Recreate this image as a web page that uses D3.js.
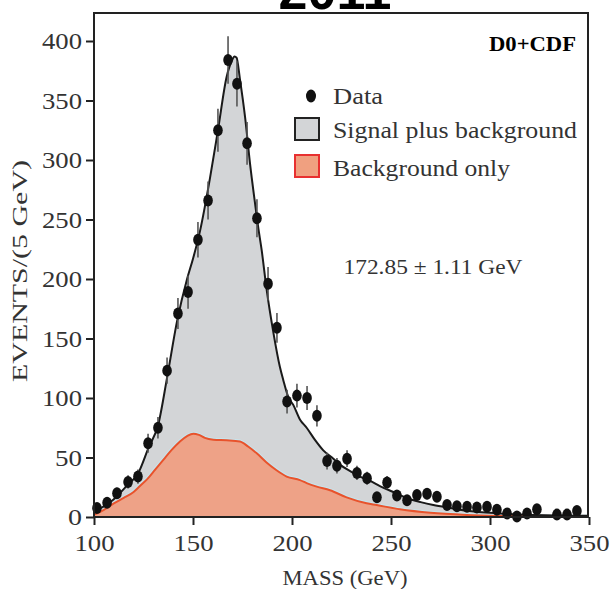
<!DOCTYPE html>
<html><head><meta charset="utf-8">
<script src="https://cdn.jsdelivr.net/npm/d3@7"></script>
<style>html,body{margin:0;padding:0;background:#fff;}svg{display:block;}</style>
</head><body>
<svg id="chart" width="610" height="589"></svg>
<script>
// ---- data ----
const dataMass = [101.5,106.6,111.6,117.2,122.2,127.3,132.3,136.9,142.4,147.5,152.5,157.6,162.6,167.7,172.2,177.3,182.3,187.9,192.4,197.5,202.5,207.6,212.6,217.7,222.7,227.8,232.8,237.9,242.9,248.0,253.0,258.1,263.1,268.2,273.2,278.3,283.3,288.4,293.4,298.5,303.5,308.6,313.6,318.7,323.7,333.8,338.9,343.9];
const dataEvents = [7.5,12,20,29.5,34,62,75,123,171,189,233,266,325,384,364,314,251,196,159,97,102,100,85,47,43,49,37,32.5,16.5,29,18,14,18.5,19.5,17,10,9,8.6,8,8.6,6,3,0.5,3,6.5,2,2,5];
const dataErr = [3,3.5,4.5,5.5,6,8,9,11,13,14,15,16,18,20,19,18,16,14,12.5,10,10,10,9,7,6.5,7,6,5.5,4,5.5,4,4,4.5,4.5,4,3,3,3,3,3,2.5,2,1,2,2.5,1.5,1.5,2];

const sbMass = [100,105,110,113,117,122.4,127.5,132.5,137,142,147,150,153.5,158.6,162.6,167,169.5,171,172,173.7,176.3,178.8,181.3,182.8,184.7,187.2,190.6,193.9,195.6,198.1,200.7,204,207.4,211.5,215.8,220.9,224.2,230,234.3,240,244.4,251.2,257.9,265,271.4,280,288.2,305,321.7,345.5,350];
const sbEvents = [5,9,15,20,27,37,58,78,118,165,200,217,240,285,325,370,383,387,386,368,336,297,264,245,224,191,155,126,115,101,94,82,75,65,56,49,44,38,34,30,26,21,16,12.5,10,7.5,5.3,3,1.7,1,1];

const bgMass = [100,105,110,115,120,123.2,127,131,135,139,143.4,147,150.2,153,156,160.3,167,173.7,178,182.2,187,192,197.3,204,207.4,212.5,219.2,227.6,237.7,242.8,254.5,270,288.2,310,330,350];
const bgEvents = [2,6,11.5,16,21,26,32,40,48,56,63.5,68,70,69,66.5,65,64.5,63.5,59,53.5,46,39.5,34,31,28.5,25.5,22.5,16.5,11.5,10,6.5,3.5,1.7,0.8,0.3,0.2];

const xTicks = [100,150,200,250,300,350];
const yTicks = [0,50,100,150,200,250,300,350,400];

const legendLabels = ["Data","Signal plus background","Background only"];
const titleText = "2011";
const expText = "D0+CDF";
const massText = "172.85 \u00b1 1.11 GeV";
const xLabel = "MASS (GeV)";
const yLabel = "EVENTS/(5 GeV)";

// ---- drawing ----
const svg = d3.select("#chart");
const L = 94, R = 588, T = 13, B = 517;
const x = d3.scaleLinear().domain([100,350]).range([L, 589]);
const y = d3.scaleLinear().domain([0,400]).range([B, 41]);
const serif = "'Liberation Serif','DejaVu Serif',serif";

svg.append("defs").append("clipPath").attr("id","clip")
  .append("rect").attr("x",L).attr("y",T).attr("width",R-L).attr("height",B-T);

const g = svg.append("g").attr("clip-path","url(#clip)");

const sb = sbMass.map((m,i)=>[m,sbEvents[i]]);
const bg = bgMass.map((m,i)=>[m,bgEvents[i]]);

g.append("path").datum(sb)
  .attr("d", d3.area().x(d=>x(d[0])).y0(y(0)).y1(d=>y(d[1])).curve(d3.curveMonotoneX))
  .attr("fill","#d3d5d7");
g.append("path").datum(bg)
  .attr("d", d3.line().x(d=>x(d[0])).y(d=>y(d[1])).curve(d3.curveMonotoneX))
  .attr("fill","none").attr("stroke","#c8e4ec").attr("stroke-width",4);
g.append("path").datum(bg)
  .attr("d", d3.area().x(d=>x(d[0])).y0(y(0)).y1(d=>y(d[1])).curve(d3.curveMonotoneX))
  .attr("fill","#eea287");
g.append("path").datum(bg)
  .attr("d", d3.line().x(d=>x(d[0])).y(d=>y(d[1])).curve(d3.curveMonotoneX))
  .attr("fill","none").attr("stroke","#e8532c").attr("stroke-width",2);
g.append("path").datum(sb)
  .attr("d", d3.line().x(d=>x(d[0])).y(d=>y(d[1])).curve(d3.curveMonotoneX))
  .attr("fill","none").attr("stroke","#1a1a1a").attr("stroke-width",2);

// data points
const pts = dataMass.map((m,i)=>({m, v:dataEvents[i], e:dataErr[i]}));
const pg = svg.append("g");
pg.selectAll("line.err").data(pts).enter().append("line")
  .attr("x1",d=>x(d.m)).attr("x2",d=>x(d.m))
  .attr("y1",d=>y(d.v+d.e)).attr("y2",d=>y(Math.max(0,d.v-d.e)))
  .attr("stroke","#555").attr("stroke-width",1.6);
pg.selectAll("ellipse").data(pts).enter().append("ellipse")
  .attr("cx",d=>x(d.m)).attr("cy",d=>y(d.v)).attr("rx",4.8).attr("ry",6)
  .attr("fill","#111");

// frame
svg.append("rect").attr("x",L).attr("y",T).attr("width",R-L).attr("height",B-T)
  .attr("fill","none").attr("stroke","#222").attr("stroke-width",2);

// axes
const xAxis = svg.append("g").attr("transform",`translate(0,${B})`)
  .call(d3.axisBottom(x).tickValues(xTicks).tickSize(8).tickPadding(9).tickFormat(d3.format("d")));
const yAxis = svg.append("g").attr("transform",`translate(${L},0)`)
  .call(d3.axisLeft(y).tickValues(yTicks).tickSize(8).tickPadding(4).tickFormat(d3.format("d")));
const tickW = {1:14, 2:27, 3:40};
[xAxis,yAxis].forEach(a=>{
  a.select(".domain").remove();
  a.selectAll(".tick line").attr("stroke","#222").attr("stroke-width",2);
  a.selectAll(".tick text").attr("fill","#333").style("font-family",serif).style("font-size","24px")
    .attr("textLength",d=>tickW[String(d).length]).attr("lengthAdjust","spacingAndGlyphs");
});

// labels
svg.append("text").attr("x",345).attr("y",585).attr("text-anchor","middle")
  .style("font-family",serif).style("font-size","22px").attr("fill","#333")
  .attr("textLength",125).attr("lengthAdjust","spacingAndGlyphs").text(xLabel);
svg.append("text").attr("transform","translate(27,271) rotate(-90)").attr("text-anchor","middle")
  .style("font-family",serif).style("font-size","22px").attr("fill","#333")
  .attr("textLength",222).attr("lengthAdjust","spacingAndGlyphs").text(yLabel);

svg.append("text").attr("x",335).attr("y",9).attr("text-anchor","middle")
  .style("font-family","'Liberation Sans',Arial,sans-serif").style("font-weight","bold")
  .style("font-size","52px").attr("fill","#000").text(titleText);

svg.append("text").attr("x",576).attr("y",51).attr("text-anchor","end")
  .style("font-family",serif).style("font-weight","bold").style("font-size","21px").attr("fill","#000")
  .attr("textLength",87).attr("lengthAdjust","spacingAndGlyphs").text(expText);

svg.append("text").attr("x",433).attr("y",274).attr("text-anchor","middle")
  .style("font-family",serif).style("font-size","22px").attr("fill","#333")
  .attr("textLength",179).attr("lengthAdjust","spacingAndGlyphs").text(massText);

// legend
const lg = svg.append("g");
lg.append("ellipse").attr("cx",311).attr("cy",96).attr("rx",5).attr("ry",6.5).attr("fill","#111");
lg.append("rect").attr("x",295).attr("y",118).attr("width",24).attr("height",22)
  .attr("fill","#d3d5d7").attr("stroke","#222").attr("stroke-width",2);
lg.append("rect").attr("x",295).attr("y",155).attr("width",24).attr("height",22)
  .attr("fill","#f0a080").attr("stroke","#e83030").attr("stroke-width",2);
const ly = [104,138,176];
const lw = [50,244,177];
legendLabels.forEach((t,i)=>{
  lg.append("text").attr("x",333).attr("y",ly[i])
    .style("font-family",serif).style("font-size","24px").attr("fill","#333")
    .attr("textLength",lw[i]).attr("lengthAdjust","spacingAndGlyphs").text(t);
});
</script>
</body></html>
